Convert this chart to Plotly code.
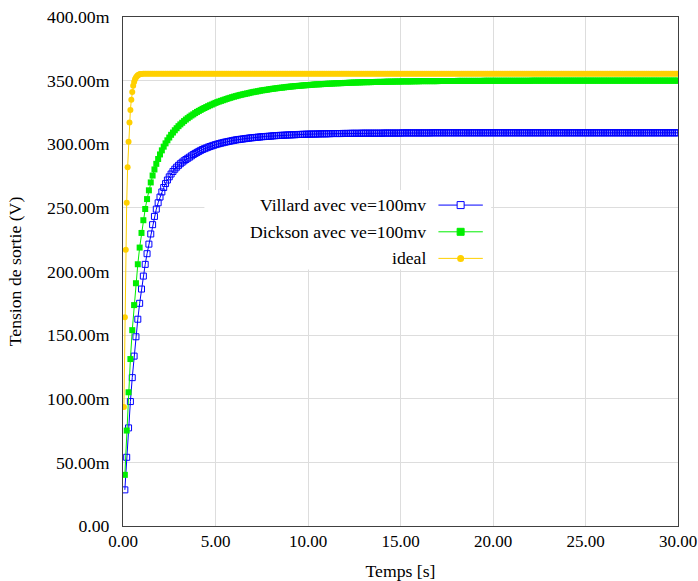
import plotly.graph_objects as go

# ---------------- data (values in mV, time in s) ----------------
t_main = [round(0.1 * k, 2) for k in range(1, 301)]
t_ideal = [round(0.05 * k, 2) for k in range(1, 21)] + [round(1.0 + 0.1 * k, 2) for k in range(1, 291)]

villard = [
    28.4, 54.0, 77.1, 97.8, 116.6, 133.5, 148.7, 162.5, 175.0, 186.2,
    196.4, 205.6, 214.0, 221.5, 229.5, 236.8, 243.3, 249.0, 254.0, 258.5,
    262.5, 266.0, 269.1, 271.9, 274.4, 276.6, 278.6, 280.4, 282.0, 283.4,
    284.7, 285.9, 287.0, 288.0, 289.0, 289.9, 290.9, 291.9, 292.8, 293.6,
    294.4, 295.2, 295.9, 296.5, 297.1, 297.7, 298.2, 298.7, 299.2, 299.7,
    300.1, 300.5, 300.9, 301.2, 301.6, 301.9, 302.2, 302.5, 302.8, 303.1,
    303.4, 303.6, 303.8, 304.0, 304.2, 304.4, 304.6, 304.8, 305.0, 305.1,
    305.3, 305.4, 305.6, 305.7, 305.9, 306.0, 306.1, 306.2, 306.3, 306.4,
    306.6, 306.7, 306.8, 306.9, 307.0, 307.0, 307.1, 307.2, 307.3, 307.3,
    307.4, 307.5, 307.5, 307.6, 307.7, 307.7, 307.8, 307.8, 307.9, 307.9,
    308.0, 308.0, 308.0, 308.0, 308.1, 308.1, 308.2, 308.2, 308.2, 308.2,
    308.3, 308.3, 308.4, 308.4, 308.4, 308.4, 308.4, 308.4, 308.5, 308.5,
    308.5, 308.5, 308.6, 308.6, 308.6, 308.6, 308.6, 308.6, 308.7, 308.7,
    308.7, 308.7, 308.7, 308.7, 308.7, 308.7, 308.7, 308.7, 308.7, 308.7,
    308.8, 308.8, 308.8, 308.8, 308.8, 308.8, 308.8, 308.8, 308.8, 308.8,
    308.9, 308.9, 308.9, 308.9, 308.9, 308.9, 308.9, 308.9, 308.9, 308.9,
    308.9, 308.9, 308.9, 308.9, 308.9, 308.9, 309.0, 309.0, 309.0, 309.0,
    309.0, 309.0, 309.0, 309.0, 309.0, 309.0, 309.0, 309.0, 309.0, 309.0,
    309.0, 309.0, 309.0, 309.0, 309.0, 309.0, 309.0, 309.0, 309.0, 309.0,
    309.0, 309.0, 309.0, 309.0, 309.0, 309.0, 309.0, 309.0, 309.0, 309.0,
    309.0, 309.0, 309.0, 309.0, 309.0, 309.0, 309.0, 309.0, 309.0, 309.0,
    309.0, 309.0, 309.0, 309.0, 309.0, 309.0, 309.0, 309.0, 309.0, 309.0,
    309.0, 309.0, 309.0, 309.0, 309.0, 309.0, 309.0, 309.0, 309.0, 309.0,
    309.0, 309.0, 309.0, 309.0, 309.0, 309.0, 309.0, 309.0, 309.0, 309.0,
    309.0, 309.0, 309.0, 309.0, 309.0, 309.0, 309.0, 309.0, 309.0, 309.0,
    309.0, 309.0, 309.0, 309.0, 309.0, 309.0, 309.0, 309.0, 309.0, 309.0,
    309.0, 309.0, 309.0, 309.0, 309.0, 309.0, 309.0, 309.0, 309.0, 309.0,
    309.0, 309.0, 309.0, 309.0, 309.0, 309.0, 309.0, 309.0, 309.0, 309.0,
    309.0, 309.0, 309.0, 309.0, 309.0, 309.0, 309.0, 309.0, 309.0, 309.0,
    309.0, 309.0, 309.0, 309.0, 309.0, 309.0, 309.0, 309.0, 309.0, 309.0,
]

dickson = [
    40.2, 75.0, 105.1, 131.2, 153.9, 173.6, 190.8, 205.7, 218.8, 230.3,
    240.3, 249.1, 256.9, 263.8, 270.0, 275.4, 280.2, 284.6, 288.4, 292.0,
    295.2, 298.1, 300.7, 303.1, 305.3, 307.4, 309.2, 311.0, 312.6, 314.2,
    315.6, 316.9, 318.2, 319.4, 320.5, 321.6, 322.6, 323.5, 324.5, 325.4,
    326.2, 327.0, 327.8, 328.5, 329.2, 329.9, 330.6, 331.2, 331.9, 332.5,
    333.1, 333.6, 334.1, 334.6, 335.1, 335.6, 336.1, 336.5, 337.0, 337.4,
    337.8, 338.2, 338.6, 338.9, 339.3, 339.6, 339.9, 340.2, 340.6, 340.9,
    341.2, 341.4, 341.7, 342.0, 342.3, 342.5, 342.7, 342.9, 343.2, 343.4,
    343.6, 343.8, 344.0, 344.2, 344.4, 344.5, 344.7, 344.9, 345.1, 345.2,
    345.4, 345.5, 345.7, 345.8, 345.9, 346.0, 346.2, 346.3, 346.4, 346.5,
    346.6, 346.7, 346.9, 347.0, 347.1, 347.1, 347.2, 347.3, 347.4, 347.5,
    347.6, 347.6, 347.7, 347.8, 347.9, 347.9, 348.0, 348.0, 348.1, 348.2,
    348.2, 348.3, 348.4, 348.4, 348.5, 348.5, 348.6, 348.6, 348.7, 348.7,
    348.8, 348.8, 348.8, 348.8, 348.9, 348.9, 349.0, 349.0, 349.0, 349.0,
    349.1, 349.1, 349.2, 349.2, 349.2, 349.2, 349.3, 349.3, 349.3, 349.3,
    349.4, 349.4, 349.4, 349.4, 349.4, 349.4, 349.5, 349.5, 349.5, 349.5,
    349.6, 349.6, 349.6, 349.6, 349.6, 349.6, 349.6, 349.6, 349.6, 349.6,
    349.7, 349.7, 349.7, 349.7, 349.7, 349.7, 349.7, 349.7, 349.7, 349.7,
    349.8, 349.8, 349.8, 349.8, 349.8, 349.8, 349.8, 349.8, 349.8, 349.8,
    349.8, 349.8, 349.8, 349.8, 349.9, 349.9, 349.9, 349.9, 349.9, 349.9,
    349.9, 349.9, 349.9, 349.9, 349.9, 349.9, 349.9, 349.9, 349.9, 349.9,
    349.9, 349.9, 349.9, 349.9, 349.9, 349.9, 349.9, 349.9, 349.9, 349.9,
    350.0, 350.0, 350.0, 350.0, 350.0, 350.0, 350.0, 350.0, 350.0, 350.0,
    350.0, 350.0, 350.0, 350.0, 350.0, 350.0, 350.0, 350.0, 350.0, 350.0,
    350.0, 350.0, 350.0, 350.0, 350.0, 350.0, 350.0, 350.0, 350.0, 350.0,
    350.0, 350.0, 350.0, 350.0, 350.0, 350.0, 350.0, 350.0, 350.0, 350.0,
    350.0, 350.0, 350.0, 350.0, 350.0, 350.0, 350.0, 350.0, 350.0, 350.0,
    350.0, 350.0, 350.0, 350.0, 350.0, 350.0, 350.0, 350.0, 350.0, 350.0,
    350.0, 350.0, 350.0, 350.0, 350.0, 350.0, 350.0, 350.0, 350.0, 350.0,
    350.0, 350.0, 350.0, 350.0, 350.0, 350.0, 350.0, 350.0, 350.0, 350.0,
]

ideal = [
    93.5, 164.0, 217.0, 254.0, 282.0, 302.0, 317.0, 327.0, 335.0, 341.0,
    346.0, 349.0, 351.0, 352.5, 353.5, 354.2, 354.7, 355.0, 355.2, 355.3,
    355.5, 355.5, 355.5, 355.5, 355.5, 355.5, 355.5, 355.5, 355.5, 355.5,
    355.5, 355.5, 355.5, 355.5, 355.5, 355.5, 355.5, 355.5, 355.5, 355.5,
    355.5, 355.5, 355.5, 355.5, 355.5, 355.5, 355.5, 355.5, 355.5, 355.5,
    355.5, 355.5, 355.5, 355.5, 355.5, 355.5, 355.5, 355.5, 355.5, 355.5,
    355.5, 355.5, 355.5, 355.5, 355.5, 355.5, 355.5, 355.5, 355.5, 355.5,
    355.5, 355.5, 355.5, 355.5, 355.5, 355.5, 355.5, 355.5, 355.5, 355.5,
    355.5, 355.5, 355.5, 355.5, 355.5, 355.5, 355.5, 355.5, 355.5, 355.5,
    355.5, 355.5, 355.5, 355.5, 355.5, 355.5, 355.5, 355.5, 355.5, 355.5,
    355.5, 355.5, 355.5, 355.5, 355.5, 355.5, 355.5, 355.5, 355.5, 355.5,
    355.5, 355.5, 355.5, 355.5, 355.5, 355.5, 355.5, 355.5, 355.5, 355.5,
    355.5, 355.5, 355.5, 355.5, 355.5, 355.5, 355.5, 355.5, 355.5, 355.5,
    355.5, 355.5, 355.5, 355.5, 355.5, 355.5, 355.5, 355.5, 355.5, 355.5,
    355.5, 355.5, 355.5, 355.5, 355.5, 355.5, 355.5, 355.5, 355.5, 355.5,
    355.5, 355.5, 355.5, 355.5, 355.5, 355.5, 355.5, 355.5, 355.5, 355.5,
    355.5, 355.5, 355.5, 355.5, 355.5, 355.5, 355.5, 355.5, 355.5, 355.5,
    355.5, 355.5, 355.5, 355.5, 355.5, 355.5, 355.5, 355.5, 355.5, 355.5,
    355.5, 355.5, 355.5, 355.5, 355.5, 355.5, 355.5, 355.5, 355.5, 355.5,
    355.5, 355.5, 355.5, 355.5, 355.5, 355.5, 355.5, 355.5, 355.5, 355.5,
    355.5, 355.5, 355.5, 355.5, 355.5, 355.5, 355.5, 355.5, 355.5, 355.5,
    355.5, 355.5, 355.5, 355.5, 355.5, 355.5, 355.5, 355.5, 355.5, 355.5,
    355.5, 355.5, 355.5, 355.5, 355.5, 355.5, 355.5, 355.5, 355.5, 355.5,
    355.5, 355.5, 355.5, 355.5, 355.5, 355.5, 355.5, 355.5, 355.5, 355.5,
    355.5, 355.5, 355.5, 355.5, 355.5, 355.5, 355.5, 355.5, 355.5, 355.5,
    355.5, 355.5, 355.5, 355.5, 355.5, 355.5, 355.5, 355.5, 355.5, 355.5,
    355.5, 355.5, 355.5, 355.5, 355.5, 355.5, 355.5, 355.5, 355.5, 355.5,
    355.5, 355.5, 355.5, 355.5, 355.5, 355.5, 355.5, 355.5, 355.5, 355.5,
    355.5, 355.5, 355.5, 355.5, 355.5, 355.5, 355.5, 355.5, 355.5, 355.5,
    355.5, 355.5, 355.5, 355.5, 355.5, 355.5, 355.5, 355.5, 355.5, 355.5,
    355.5, 355.5, 355.5, 355.5, 355.5, 355.5, 355.5, 355.5, 355.5, 355.5,
]

series_names = ["Villard avec ve=100mv", "Dickson avec ve=100mv", "ideal"]
x_tickvals = [0, 5, 10, 15, 20, 25, 30]
x_ticktext = ["0.00", "5.00", "10.00", "15.00", "20.00", "25.00", "30.00"]
y_tickvals = [0, 50, 100, 150, 200, 250, 300, 350, 400]
y_ticktext = ["0.00", "50.00m", "100.00m", "150.00m", "200.00m", "250.00m",
              "300.00m", "350.00m", "400.00m"]

BLUE = "#0000ff"
GREEN = "#00ee00"
GOLD = "#ffd000"
FONT = "Liberation Serif, Times New Roman, serif"
FS = 17.7

fig = go.Figure()
fig.add_trace(go.Scatter(
    x=t_main, y=villard, mode="lines+markers", name=series_names[0],
    line=dict(color=BLUE, width=1),
    marker=dict(symbol="square-open", size=6, color=BLUE, line=dict(width=1, color=BLUE)),
    showlegend=False))
fig.add_trace(go.Scatter(
    x=t_main, y=dickson, mode="lines+markers", name=series_names[1],
    line=dict(color=GREEN, width=1),
    marker=dict(symbol="square", size=6, color=GREEN),
    showlegend=False))
fig.add_trace(go.Scatter(
    x=t_ideal, y=ideal, mode="lines+markers", name=series_names[2],
    line=dict(color=GOLD, width=1),
    marker=dict(symbol="circle", size=6, color=GOLD),
    showlegend=False))

# ---------------- manual legend (text left, sample right) ----------------
shapes = [dict(type="rect", xref="x", yref="y", x0=4.4, x1=19.9, y0=201.5, y1=264.0,
               fillcolor="white", line=dict(width=0), layer="above")]
annotations = []
rows_y = [252.2, 231.2, 210.3]
colors = [BLUE, GREEN, GOLD]
for i, (name, yy, c) in enumerate(zip(series_names, rows_y, colors)):
    annotations.append(dict(x=16.5, y=yy, xref="x", yref="y", text=name, showarrow=False,
                            xanchor="right", yanchor="middle",
                            font=dict(family=FONT, size=FS, color="black")))
    shapes.append(dict(type="line", xref="x", yref="y", x0=17.05, x1=19.45, y0=yy, y1=yy,
                       line=dict(color=c, width=1), layer="above"))
    if i == 2:
        shapes.append(dict(type="circle", xref="x", yref="y", xsizemode="pixel", ysizemode="pixel",
                           xanchor=18.25, yanchor=yy, x0=-3.5, x1=3.5, y0=-3.5, y1=3.5,
                           fillcolor=c, line=dict(color=c, width=0), layer="above"))
    else:
        shapes.append(dict(type="rect", xref="x", yref="y", xsizemode="pixel", ysizemode="pixel",
                           xanchor=18.25, yanchor=yy, x0=-3.5, x1=3.5, y0=-3.5, y1=3.5,
                           fillcolor=("white" if i == 0 else c), line=dict(color=c, width=1),
                           layer="above"))

fig.update_layout(
    width=698, height=581,
    margin=dict(l=123, r=20, t=17, b=55, autoexpand=False),
    paper_bgcolor="white", plot_bgcolor="white",
    font=dict(family=FONT, size=FS, color="black"),
    shapes=shapes, annotations=annotations,
    showlegend=False,
)
fig.update_xaxes(
    range=[0, 30], tickvals=x_tickvals, ticktext=x_ticktext,
    showgrid=True, gridcolor="#dddddd", gridwidth=1,
    showline=True, linecolor="#404040", linewidth=1, mirror=True,
    ticks="", zeroline=False, automargin=False,
    title=dict(text="Temps [s]", font=dict(family=FONT, size=FS), standoff=14),
    tickfont=dict(family=FONT, size=17),
)
fig.update_yaxes(
    range=[0, 400], tickvals=y_tickvals, ticktext=y_ticktext,
    showgrid=True, gridcolor="#dddddd", gridwidth=1,
    showline=True, linecolor="#404040", linewidth=1, mirror=True,
    ticks="", zeroline=False, ticklabelstandoff=9, automargin=False,
    title=dict(text="Tension de sortie (V)", font=dict(family=FONT, size=FS), standoff=20),
    tickfont=dict(family=FONT, size=FS),
)

fig.write_html(
    "out.html",
    config={"displayModeBar": False},
    post_script="document.body.style.margin='0';document.body.style.padding='0';",
)
